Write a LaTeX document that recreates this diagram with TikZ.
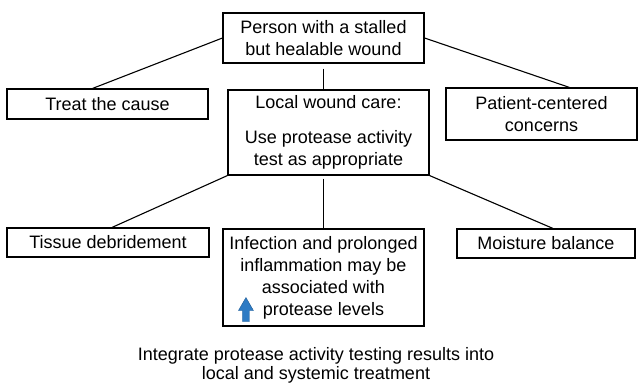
\documentclass[tikz,border=0pt]{standalone}
\usepackage{fontspec}
\setmainfont{Liberation Sans}
\usetikzlibrary{positioning, calc}
\definecolor{arrowblue}{HTML}{2E7BC4}
\definecolor{arrowedge}{HTML}{1D5A94}
\tikzset{>=stealth}
\tikzset{box/.style={draw, line width=1.1pt, align=center, inner sep=2pt,
    font=\fontsize{18}{22}\selectfont}}

\begin{document}
\begin{tikzpicture}[x=1pt, y=1pt, line width=1.1pt]
    \useasboundingbox (0,0) rectangle (640,383);
    \node [box, minimum width=201, minimum height=50] (person) at (323.5,345) {Person with a stalled\\but healable wound};
    \node [box, minimum width=201, minimum height=85] (local) at (328.5,250.5) {Local wound care:\\[13pt]Use protease activity\\test as appropriate};
    \node [box, minimum width=201, minimum height=30] (cause) at (107.5,279) {Treat the cause};
    \node [box, minimum width=191, minimum height=52] (patient) at (541.5,269) {Patient-centered\\concerns};
    \node [box, minimum width=202, minimum height=29] (tissue) at (108,140.5) {Tissue debridement};
    \node [box, minimum width=201, minimum height=97] (infect) at (323.5,105.5) {Infection and prolonged\\inflammation may be\\associated with\\protease levels};
    \node [box, minimum width=178, minimum height=29] (moisture) at (546,139.5) {Moisture balance};
    \node [align=center, inner sep=0pt, font=\fontsize{18}{19.5}\selectfont] (summary) at (316,17.5) {Integrate protease activity testing results into\\local and systemic treatment};
    % connectors
    \draw (person.west) -- ([xshift=-15pt]cause.north);
    \draw (person.east) -- ([xshift=28pt]patient.north);
    \draw [shorten <=5pt] (person.south) -- (person.south |- local.north);
    \draw (local.south west) -- ([xshift=4pt]tissue.north);
    \draw [shorten <=3pt] (infect.north |- local.south) -- (infect.north);
    \draw (local.south east) -- ([xshift=7pt]moisture.north);
    % up arrow
    \begin{scope}[shift={(infect.south west)}]
        \filldraw [fill=arrowblue, draw=arrowedge, line width=0.4pt] (20,5) -- (27,5) -- (27,16) -- (31,16) -- (23.5,29) -- (16,16) -- (20,16) -- cycle;
    \end{scope}
\end{tikzpicture}
\end{document}
